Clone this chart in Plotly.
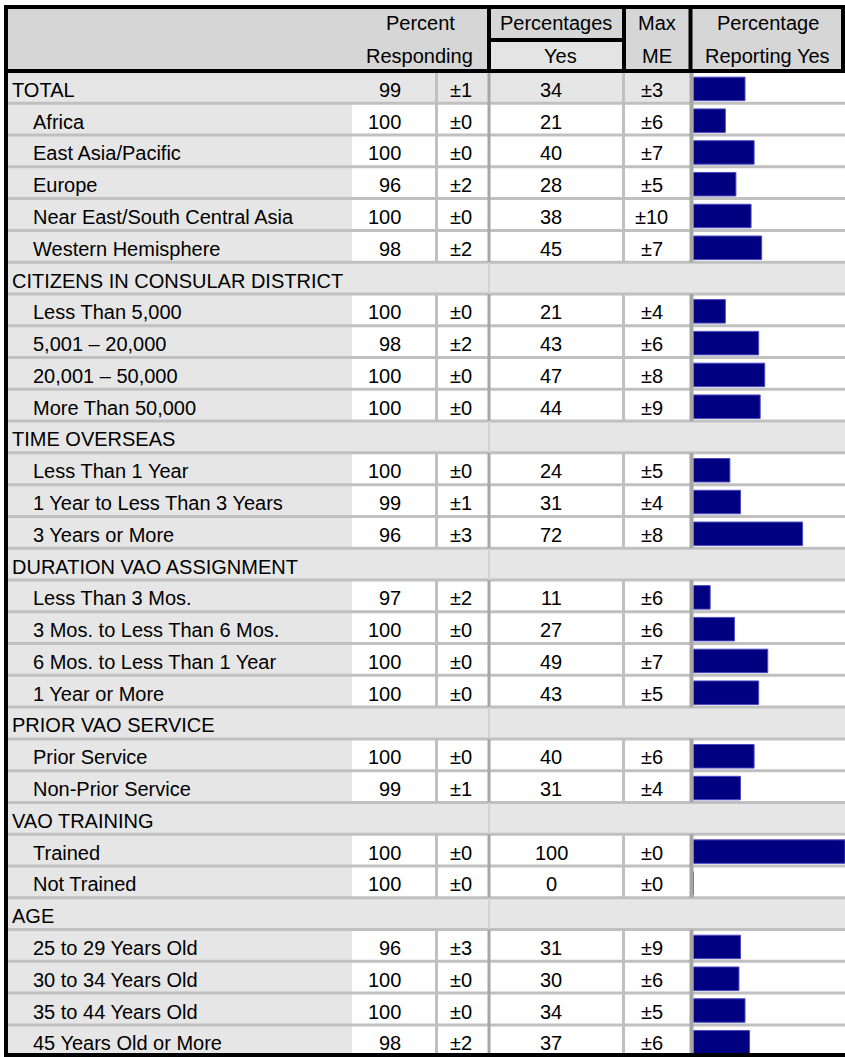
import plotly.graph_objects as go

# ---------------- data ----------------
labels = [
    "TOTAL", "Africa", "East Asia/Pacific", "Europe", "Near East/South Central Asia",
    "Western Hemisphere",
    "CITIZENS IN CONSULAR DISTRICT", "Less Than 5,000", "5,001 \u2013 20,000",
    "20,001 \u2013 50,000", "More Than 50,000",
    "TIME OVERSEAS", "Less Than 1 Year", "1 Year to Less Than 3 Years", "3 Years or More",
    "DURATION VAO ASSIGNMENT", "Less Than 3 Mos.", "3 Mos. to Less Than 6 Mos.",
    "6 Mos. to Less Than 1 Year", "1 Year or More",
    "PRIOR VAO SERVICE", "Prior Service", "Non-Prior Service",
    "VAO TRAINING", "Trained", "Not Trained",
    "AGE", "25 to 29 Years Old", "30 to 34 Years Old", "35 to 44 Years Old",
    "45 Years Old or More",
]
row_kinds = [
    "total", "item", "item", "item", "item", "item",
    "section", "item", "item", "item", "item",
    "section", "item", "item", "item",
    "section", "item", "item", "item", "item",
    "section", "item", "item",
    "section", "item", "item",
    "section", "item", "item", "item", "item",
]
pct_responding = [99, 100, 100, 96, 100, 98,
                  None, 100, 98, 100, 100,
                  None, 100, 99, 96,
                  None, 97, 100, 100, 100,
                  None, 100, 99,
                  None, 100, 100,
                  None, 96, 100, 100, 98]
responding_me = [1, 0, 0, 2, 0, 2,
                 None, 0, 2, 0, 0,
                 None, 0, 1, 3,
                 None, 2, 0, 0, 0,
                 None, 0, 1,
                 None, 0, 0,
                 None, 3, 0, 0, 2]
pct_yes = [34, 21, 40, 28, 38, 45,
           None, 21, 43, 47, 44,
           None, 24, 31, 72,
           None, 11, 27, 49, 43,
           None, 40, 31,
           None, 100, 0,
           None, 31, 30, 34, 37]
max_me = [3, 6, 7, 5, 10, 7,
          None, 4, 6, 8, 9,
          None, 5, 4, 8,
          None, 6, 6, 7, 5,
          None, 6, 4,
          None, 0, 0,
          None, 9, 6, 5, 6]

header_top = ["Percent", "Percentages", "Max", "Percentage"]
header_bottom = ["Responding", "Yes", "ME", "Reporting Yes"]

# ---------------- layout geometry (pixel-like axis units) ----------------
W, H = 845, 1057
X_LEFT, X_RIGHT, HDR_RIGHT = 6, 845, 843
C_LABEL_END, C_RESP_END, C_ME_END, C_YES_END, C_MAX_END = 352, 436.5, 489, 623.5, 691.5
BAR_START = 693.5
Y_HDR_TOP, Y_HDR_MID, Y_HDR_BOT = 7, 40, 71
ROW0, ROWH = 71.5, 31.78
TEXT_DY = 2.5

FONT = "Liberation Sans, Arial, Helvetica, sans-serif"
HDR_BG = "#d6d6d6"
CELL_GREY = "#e6e6e6"
LINE_LIGHT = "#c0c0c0"
LINE_DARK = "#a6a6a6"
BAR_COLOR = "#000080"

n = len(labels)
row_top = [ROW0 + k * ROWH for k in range(n + 1)]
row_mid = [ROW0 + (k + 0.5) * ROWH for k in range(n)]

shapes = []


def rect(x0, x1, y0, y1, color):
    shapes.append(dict(type="rect", xref="x", yref="y", x0=x0, x1=x1, y0=y0, y1=y1,
                       fillcolor=color, line=dict(width=0), layer="below"))


def seg(x0, y0, x1, y1, color, width):
    shapes.append(dict(type="line", xref="x", yref="y", x0=x0, y0=y0, x1=x1, y1=y1,
                       line=dict(color=color, width=width), layer="above"))


# backgrounds
rect(X_LEFT, HDR_RIGHT, Y_HDR_TOP, Y_HDR_BOT, HDR_BG)
rect(C_ME_END, C_YES_END, Y_HDR_MID, Y_HDR_BOT, "#e4e4e4")
for k, kind in enumerate(row_kinds):
    y0, y1 = row_top[k], row_top[k + 1]
    if kind == "total":
        rect(X_LEFT, C_MAX_END, y0, y1, CELL_GREY)
    elif kind == "section":
        rect(X_LEFT, X_RIGHT, y0, y1, CELL_GREY)
    else:
        rect(X_LEFT, C_LABEL_END, y0, y1, CELL_GREY)

# horizontal grey row lines
for k in range(1, n):
    seg(X_LEFT, row_top[k], X_RIGHT, row_top[k], LINE_LIGHT, 3)

# vertical body separators
for k, kind in enumerate(row_kinds):
    y0, y1 = row_top[k], row_top[k + 1]
    if kind == "section":
        seg(C_ME_END, y0, C_ME_END, y1, "#d2d2d2", 2)
        continue
    seg(C_RESP_END, y0, C_RESP_END, y1, LINE_LIGHT, 3)
    seg(C_ME_END, y0, C_ME_END, y1, LINE_DARK, 3)
    seg(C_YES_END, y0, C_YES_END, y1, LINE_LIGHT, 3)
    seg(C_MAX_END, y0, C_MAX_END, y1, LINE_DARK, 4)

# black borders
seg(X_LEFT - 2, Y_HDR_TOP, HDR_RIGHT + 2, Y_HDR_TOP, "black", 4)
seg(X_LEFT - 2, Y_HDR_BOT, HDR_RIGHT + 2, Y_HDR_BOT, "black", 4)
seg(X_LEFT, Y_HDR_TOP, X_LEFT, H, "black", 4)
seg(HDR_RIGHT, Y_HDR_TOP, HDR_RIGHT, Y_HDR_BOT, "black", 4)
seg(X_LEFT, 1055, X_RIGHT, 1055, "black", 4)
for xv in (C_ME_END, C_YES_END + 0.5, C_MAX_END - 1):
    seg(xv, Y_HDR_TOP, xv, Y_HDR_BOT, "black", 4)
seg(C_ME_END, Y_HDR_MID, C_YES_END + 0.5, Y_HDR_MID, "black", 4)

# ---------------- text ----------------
annotations = []


def txt(x, y, s, anchor="center"):
    annotations.append(dict(x=x, y=y, xref="x", yref="y", text=s, showarrow=False,
                            xanchor=anchor, yanchor="middle",
                            font=dict(family=FONT, size=20, color="black")))


hdr_x = [420, 556, 656.5, 768]
for xv, t in zip(hdr_x, header_top):
    txt(xv, 22.5, t)
hdr_bx = [419, 560, 656.5, 767]
for xv, t in zip(hdr_bx, header_bottom):
    txt(xv, 55.5, t)

for k in range(n):
    y = row_mid[k] + TEXT_DY
    kind = row_kinds[k]
    txt(10 if kind in ("total", "section") else 31, y, labels[k], "left")
    if pct_responding[k] is not None:
        txt(403, y, str(pct_responding[k]), "right")
    if responding_me[k] is not None:
        txt(461, y, "\u00b1" + str(responding_me[k]))
    if pct_yes[k] is not None:
        txt(551, y, str(pct_yes[k]))
    if max_me[k] is not None:
        txt(651.5, y, "\u00b1" + str(max_me[k]))

# ---------------- bars ----------------
bar_y = [row_mid[k] + 1.5 for k in range(n) if pct_yes[k] is not None]
bar_x = [v for v in pct_yes if v is not None]

# percentage axis overlaid on the whole width: 0 % at the bar column start, 100 % at the right edge
pct_axis_min = -BAR_START / (W - BAR_START) * 100

fig = go.Figure()
fig.add_trace(go.Bar(
    x=bar_x, y=bar_y, orientation="h", xaxis="x2", yaxis="y",
    width=23.5, marker=dict(color=BAR_COLOR, line=dict(color="#4a4ac4", width=1)),
    hoverinfo="skip", showlegend=False,
))

fig.update_layout(
    width=W, height=H,
    margin=dict(l=0, r=0, t=0, b=0, pad=0),
    paper_bgcolor="white", plot_bgcolor="rgba(0,0,0,0)",
    xaxis=dict(range=[0, W], domain=[0, 1], visible=False, fixedrange=True),
    xaxis2=dict(range=[pct_axis_min, 100], overlaying="x", anchor="y",
                visible=False, fixedrange=True),
    yaxis=dict(range=[H, 0], domain=[0, 1], visible=False, fixedrange=True),
    shapes=shapes, annotations=annotations,
    showlegend=False, hovermode=False,
)

fig.write_html("out.html", post_script="document.body.style.margin='0px';",
               config={"displayModeBar": False})
